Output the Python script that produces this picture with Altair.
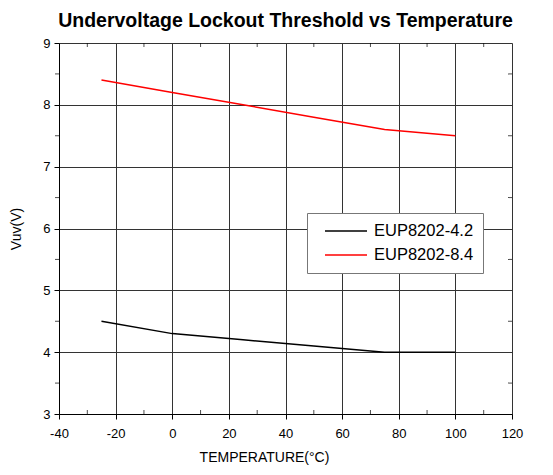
import altair as alt
import pandas as pd

temps = [-25, 0, 25, 50, 75, 100]
v_42 = [4.5, 4.3, 4.2, 4.1, 4.0, 4.0]
v_84 = [8.4, 8.2, 8.0, 7.8, 7.6, 7.5]
series = ["EUP8202-4.2", "EUP8202-8.4"]
colors = ["#000000", "#ff0000"]
x_major = [-40, -20, 0, 20, 40, 60, 80, 100, 120]
y_major = [3, 4, 5, 6, 7, 8, 9]
x_minor = [-30, -10, 10, 30, 50, 70, 90, 110]
y_minor = [3.5, 4.5, 5.5, 6.5, 7.5, 8.5]

rows = []
for t, a, b in zip(temps, v_42, v_84):
    rows.append({"T": t, "V": a, "s": series[0]})
    rows.append({"T": t, "V": b, "s": series[1]})
df = pd.DataFrame(rows)

FONT = "Liberation Sans"
xs = alt.Scale(domain=[-40, 120], nice=False, zero=False)
ys = alt.Scale(domain=[3, 9], nice=False, zero=False)

lines = alt.Chart(df).mark_line(strokeWidth=1.5).encode(
    x=alt.X("T:Q", scale=xs,
            axis=alt.Axis(values=x_major, title="TEMPERATURE(°C)", grid=True,
                          gridColor="#333", gridWidth=1, tickSize=5, tickColor="#000",
                          domainColor="#000", labelPadding=8, labelFontSize=13,
                          labelExpr="'' + datum.value",
                          labelFont=FONT, titleFont=FONT, titleFontSize=14,
                          titleFontWeight="normal", titleColor="#000", labelColor="#000",
                          titlePadding=10, titleX=205, labelFlush=False)),
    y=alt.Y("V:Q", scale=ys,
            axis=alt.Axis(values=y_major, title="Vuv(V)", grid=True,
                          gridColor="#333", gridWidth=1, tickSize=5, tickColor="#000",
                          domainColor="#000", labelPadding=4, labelFontSize=13,
                          labelExpr="'' + datum.value",
                          labelFont=FONT, titleFont=FONT, titleFontSize=14,
                          titleFontWeight="normal", titleColor="#000", labelColor="#000",
                          titlePadding=19, labelFlush=False)),
    color=alt.Color("s:N", scale=alt.Scale(domain=series, range=colors),
                    legend=alt.Legend(title=None, orient="none", legendX=248, legendY=170,
                                      fillColor="white", strokeColor="#777",
                                      padding=9, symbolType="M0,0H5.25",
                                      symbolSize=256,
                                      symbolStrokeWidth=1.5, labelFontSize=16.5,
                                      labelFont=FONT, labelColor="#000",
                                      labelExpr="datum.label + '\u00a0\u00a0'",
                                      rowPadding=6, labelOffset=40)),
    order="T:Q",
)

xmin_df = pd.DataFrame({"x": x_minor})
ymin_df = pd.DataFrame({"y": y_minor})

bottom_minor = alt.Chart(xmin_df).mark_tick(orient="vertical", size=4, thickness=1,
                                            color="#000", yOffset=-2).encode(
    x=alt.X("x:Q", scale=xs), y=alt.datum(3, scale=ys))
top_minor = alt.Chart(xmin_df).mark_tick(orient="vertical", size=4, thickness=1,
                                         color="#000", yOffset=2).encode(
    x=alt.X("x:Q", scale=xs), y=alt.datum(9, scale=ys))
left_minor = alt.Chart(ymin_df).mark_tick(orient="horizontal", size=4, thickness=1,
                                          color="#000", xOffset=-2).encode(
    y=alt.Y("y:Q", scale=ys), x=alt.datum(-40, scale=xs))
right_minor = alt.Chart(ymin_df).mark_tick(orient="horizontal", size=4, thickness=1,
                                           color="#000", xOffset=-2).encode(
    y=alt.Y("y:Q", scale=ys), x=alt.datum(120, scale=xs))

chart = alt.layer(bottom_minor, top_minor, left_minor, right_minor, lines).properties(
    width=453, height=371,
    title=alt.TitleParams("Undervoltage Lockout Threshold vs Temperature",
                          font=FONT, fontSize=19.5, fontWeight="bold", color="#000",
                          anchor="middle", offset=6),
    autosize=alt.AutoSizeParams(type="none"),
    padding={"left": 51, "top": 35, "right": 25, "bottom": 60},
).configure_view(stroke="#000", strokeWidth=1).configure(background="white")

chart.save("out.html", embed_options={"renderer": "svg", "actions": False})
